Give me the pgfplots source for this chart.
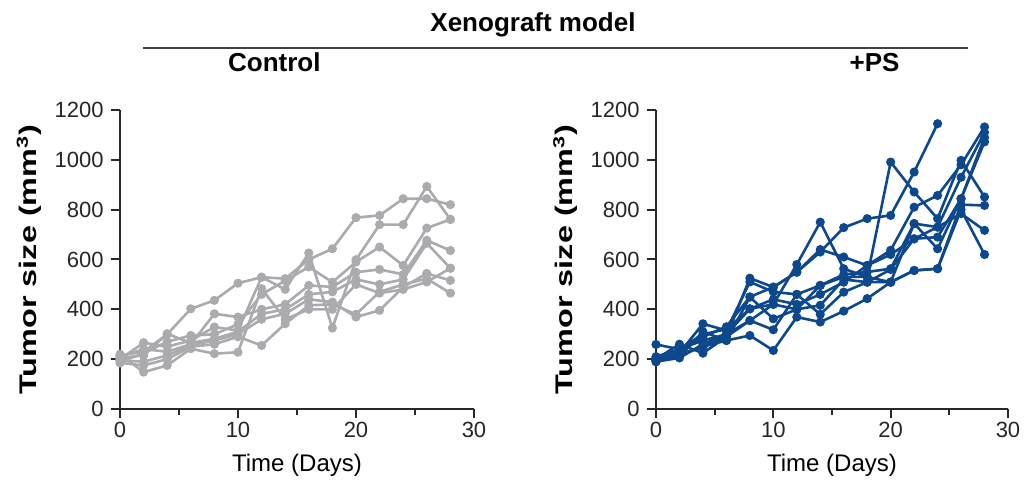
\documentclass[border=0pt]{standalone}
\usepackage{pgfplots}
\pgfplotsset{compat=1.18}
\usepackage{pgfplotstable}
\usepackage{fontspec}
\setmainfont{Liberation Sans}
\definecolor{ctrl}{RGB}{170,170,175}
\definecolor{ps}{RGB}{14,72,140}
\definecolor{axc}{RGB}{40,40,40}

\pgfplotstableread{
day A B C D E F G H
0 215 200 190 210 205 195 185 220
2 230 266 223 240 215 190 175 148
4 300 250 270 230 302 215 200 175
6 402 275 295 260 265 255 250 242
8 436 329 300 382 282 275 260 222
10 505 315 340 369 310 300 290 228
12 529 529 460 400 382 360 255 483
14 523 480 515 420 400 382 342 360
16 600 626 570 496 460 440 416 400
18 643 325 509 490 470 429 420 400
20 768 599 590 549 520 369 380 500
22 777 740 650 560 500 396 470 465
24 844 740 576 540 520 489 500 480
26 844 893 726 677 665 544 523 510
28 820 761 761 636 565 516 465 565
}\ctrltab

\pgfplotstableread{
day A B C D E F G H I
0 200 259 205 195 190 200 195 210 190
2 230 240 215 225 210 260 220 240 205
4 290 275 250 342 310 224 250 300 260
6 330 300 290 315 275 290 275 320 300
8 450 402 525 510 449 355 295 402 355
10 489 420 489 470 362 318 235 440 420
12 549 580 549 460 400 460 369 420 400
14 630 750 640 496 416 380 349 460 496
16 728 563 610 540 520 469 393 509 530
18 764 530 576 550 509 509 443 576 530
20 777 991 637 563 560 509 509 620 509
22 951 871 810 744 683 744 556 683 556
24 1145 764 857 730 690 643 563 730 563
26 nan 998 980 930 844 844 820 784 800
28 nan 851 1132 1110 1090 1072 817 717 620
}\pstab

\pgfplotsset{
  myax/.style={
    scale only axis, height=149.5pt,
    xmin=0, xmax=30, ymin=0, ymax=1200,
    axis x line=bottom, axis y line=left,
    axis line style={-, line width=1pt, axc},
    xtick={0,10,20,30}, minor xtick={5,15,25},
    ytick={0,200,...,1200}, minor y tick num=0,
    tick align=outside,
    major tick length=4.5pt, minor tick length=2.8pt,
    every tick/.style={line width=1pt, axc},
    ticklabel style={font=\fontsize{11}{13}\selectfont, inner sep=2pt, text=black!85},
    yticklabel style={xshift=-1.5pt},
    /pgf/number format/assume math mode=true,
    /pgf/number format/1000 sep={},
    xlabel={\fontsize{12}{14}\selectfont Time (Days)},
    xlabel style={at={(axis description cs:0.5,-0.21)}, anchor=base},
    ylabel={\scalebox{1.35}[1]{\fontsize{12}{14}\selectfont\bfseries Tumor size (mm\textsuperscript{3})}},
    ylabel style={at={(axis description cs:-0.257,0.5)}, anchor=center},
    unbounded coords=jump,
    clip=false,
  },
  cl/.style={color=ctrl, line width=1.3pt, mark=*, mark size=1.6pt, mark options={solid, fill=ctrl, draw=ctrl}},
  pl/.style={color=ps, line width=1.3pt, mark=*, mark size=1.6pt, mark options={solid, fill=ps, draw=ps}},
}

\begin{document}
\begin{tikzpicture}[x=1pt,y=1pt]
\path[use as bounding box] (0,0) rectangle (514.5,243.5);
\node[anchor=base, font=\fontsize{13}{15}\selectfont\bfseries] at (266.5,227.5) {Xenograft model};
\draw[line width=1pt, black!75] (71.5,219.5) -- (484,219.5);

\begin{axis}[myax, width=177pt, at={(60pt,39pt)}, anchor=south west,
  title={\fontsize{13}{15}\selectfont\bfseries Control},
  title style={at={(axis description cs:0.436,1.090)}, anchor=base}]
\foreach \s in {A,B,C,D,E,F,G,H}{
  \addplot[cl] table[x=day, y=\s]{\ctrltab};
}
\end{axis}

\begin{axis}[myax, width=176pt, at={(328pt,39pt)}, anchor=south west,
  title={\fontsize{13}{15}\selectfont\bfseries +PS},
  title style={at={(axis description cs:0.621,1.090)}, anchor=base}]
\foreach \s in {A,B,C,D,E,F,G,H,I}{
  \addplot[pl] table[x=day, y=\s]{\pstab};
}
\end{axis}
\end{tikzpicture}
\end{document}
